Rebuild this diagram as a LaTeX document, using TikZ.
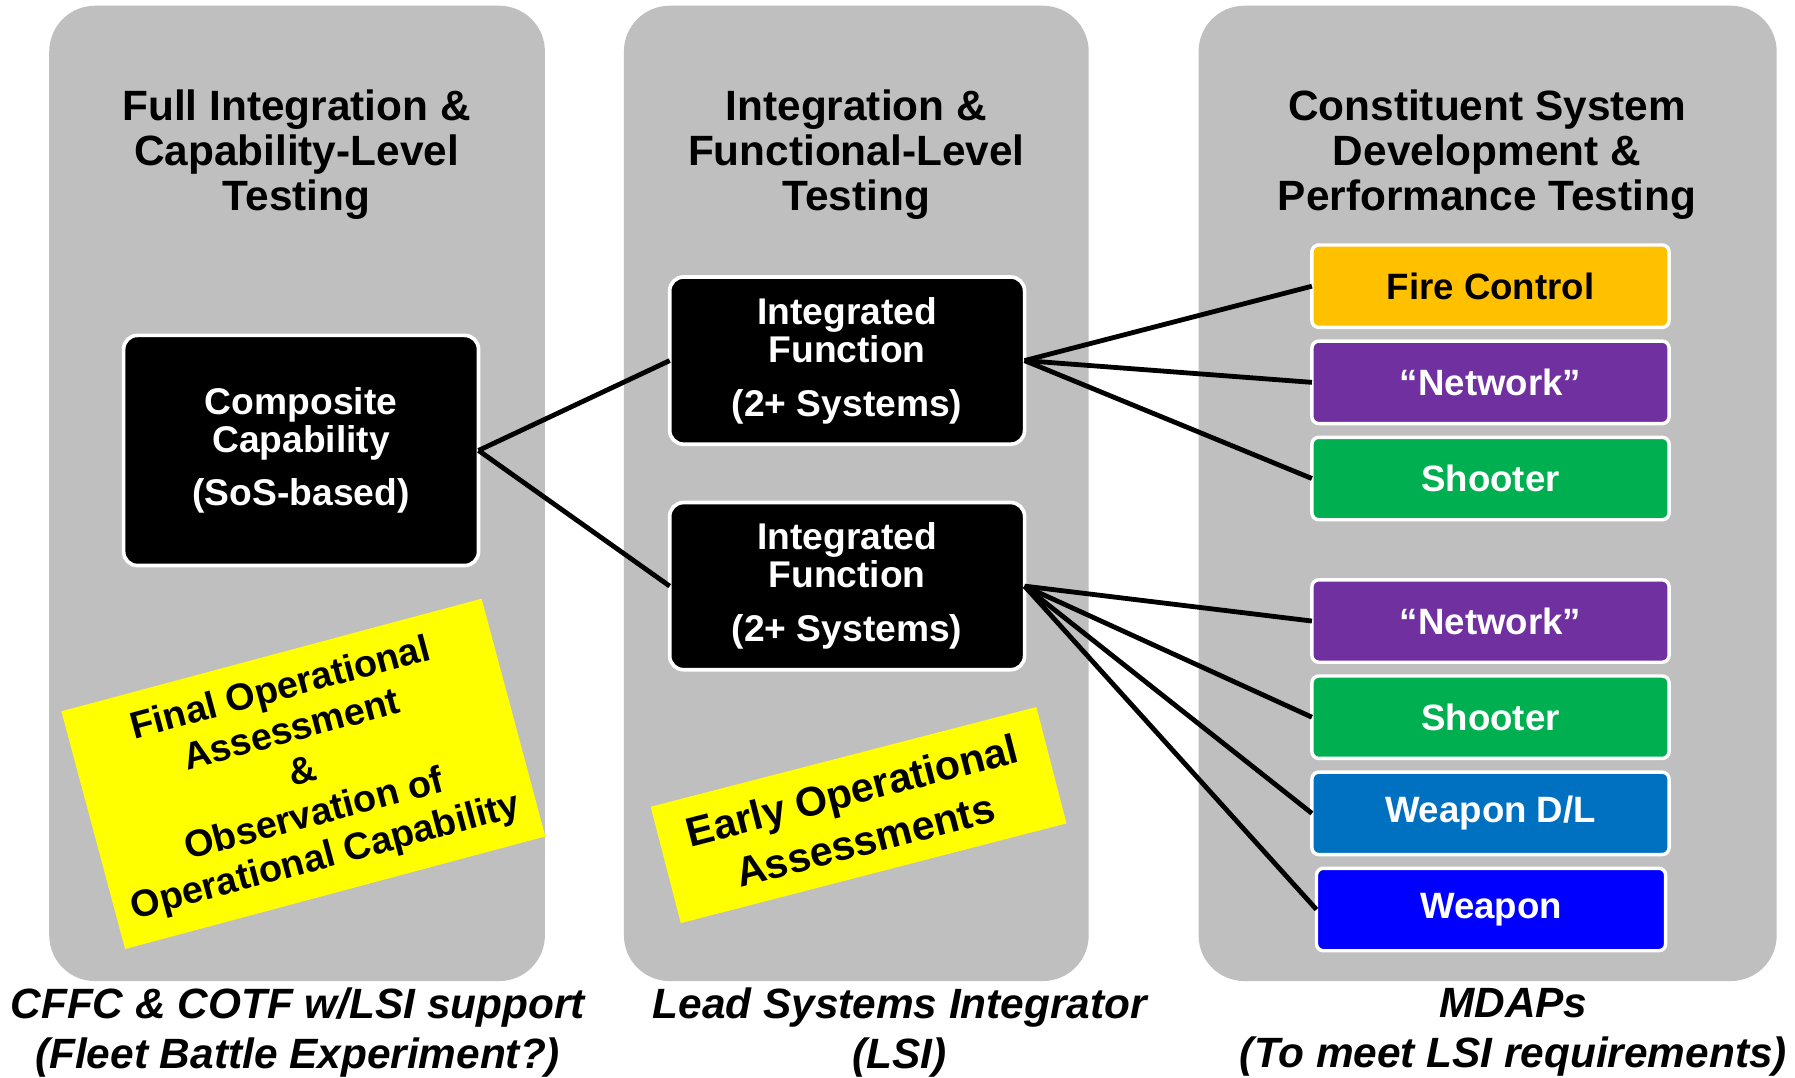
\documentclass[tikz,border=0pt]{standalone}
\usepackage{fontspec}
\setmainfont{Liberation Sans}
\definecolor{panelgray}{HTML}{BFBFBF}
\definecolor{fcorange}{HTML}{FFC000}
\definecolor{netpurple}{HTML}{7030A0}
\definecolor{shootgreen}{HTML}{00B050}
\definecolor{dlblue}{HTML}{0070C0}
\definecolor{wpnblue}{HTML}{0000FF}
\definecolor{noteyellow}{HTML}{FFFF00}
\begin{document}
\begin{tikzpicture}[x=0.5pt,y=-0.5pt,
  panel/.style={fill=panelgray, rounded corners=20pt, inner sep=0pt, outer sep=0pt},
  blackbox/.style={draw=white, line width=1.6pt, fill=black, rounded corners=6pt, text=white,
    font=\bfseries\fontsize{16.25}{16.5}\selectfont, align=center, minimum width=155pt,
    inner sep=0pt, outer sep=0pt},
  sysbox/.style={draw=white, line width=1.5pt, rounded corners=3pt, minimum width=156pt,
    minimum height=36pt, inner sep=0pt, outer sep=0pt, text=white,
    font=\bfseries\fontsize{16}{18}\selectfont},
  title/.style={align=center, font=\bfseries\fontsize{18.5}{19.5}\selectfont},
  caption/.style={align=center, font=\bfseries\itshape\fontsize{18.5}{22}\selectfont},
  note/.style={fill=noteyellow, align=center, inner sep=0pt, outer sep=0pt},
  link/.style={line width=2.1pt}]
\useasboundingbox (0,0) rectangle (1568,941);
\fill[white] (0,0) rectangle (1568,941);
% panels
\node[panel, minimum width=216.5pt, minimum height=426pt] (pL) at (259.5,431) {};
\node[panel, minimum width=203pt, minimum height=426pt] (pM) at (748,431) {};
\node[panel, minimum width=252.5pt, minimum height=426pt] (pR) at (1299.5,431) {};
% titles
\node[title] (tL) at (259,135) {Full Integration \&\\Capability-Level\\Testing};
\node[title] (tM) at (748,135) {Integration \&\\Functional-Level\\Testing};
\node[title] (tR) at (1299,135) {Constituent System\\Development \&\\Performance Testing};
% black boxes
\node[blackbox, minimum height=100.5pt] (comp) at (263,393.5) {Composite\\Capability\\[7pt](SoS-based)};
\node[blackbox, minimum height=73pt] (if1) at (740,315) {Integrated\\Function\\[7pt](2+ Systems)};
\node[blackbox, minimum height=73pt] (if2) at (740,512) {Integrated\\Function\\[7pt](2+ Systems)};
% system boxes
\node[sysbox, fill=fcorange, text=black] (fc) at (1302,250) {Fire Control};
\node[sysbox, fill=netpurple] (net1) at (1302,334) {“Network”};
\node[sysbox, fill=shootgreen] (sh1) at (1302,418) {Shooter};
\node[sysbox, fill=netpurple] (net2) at (1302,542.5) {“Network”};
\node[sysbox, fill=shootgreen] (sh2) at (1302,626.5) {Shooter};
\node[sysbox, fill=dlblue] (wdl) at (1302,710.5) {Weapon D/L};
\node[sysbox, fill=wpnblue, minimum width=152.5pt] (wpn) at (1302.5,794.5) {Weapon};
% connectors
\draw[link] (comp.east) -- (if1.west);
\draw[link] (comp.east) -- (if2.west);
\draw[link] (if1.east) -- (fc.west);
\draw[link] (if1.east) -- (net1.west);
\draw[link] (if1.east) -- (sh1.west);
\draw[link] (if2.east) -- (net2.west);
\draw[link] (if2.east) -- (sh2.west);
\draw[link] (if2.east) -- (wdl.west);
\draw[link] (if2.east) -- (wpn.west);
% yellow notes
\node[note, rotate=15, minimum width=190pt, minimum height=107.5pt,
  font=\bfseries\fontsize{16.5}{19}\selectfont] (noteL) at (265,676)
  {Final Operational\\Assessment\\\&\\Observation of\\Operational Capability};
\node[note, rotate=14.5, minimum width=174pt, minimum height=52.5pt,
  font=\bfseries\fontsize{18}{22.5}\selectfont] (noteM) at (750,712)
  {Early Operational\\Assessments};
% captions
\node[caption] (cL) at (260,902) {CFFC \& COTF w/LSI support\\(Fleet Battle Experiment?)};
\node[caption] (cM) at (786,902) {Lead Systems Integrator\\(LSI)};
\node[caption] (cR) at (1322,902) {MDAPs\\(To meet LSI requirements)};
\end{tikzpicture}
\end{document}
